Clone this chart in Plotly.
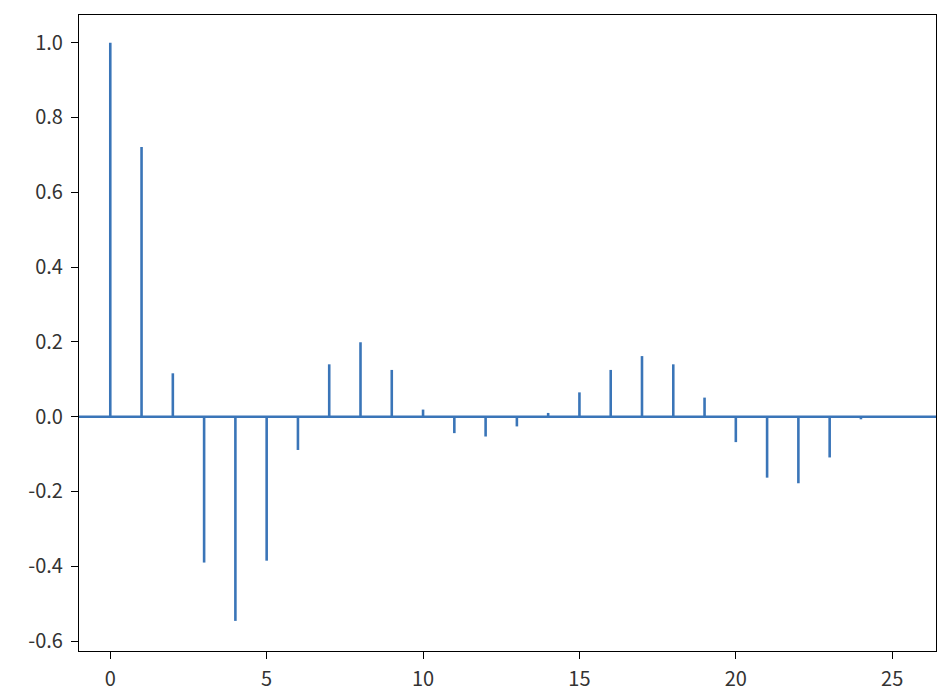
import plotly.graph_objects as go

lags = list(range(25))
acf = [1.0, 0.721, 0.116, -0.390, -0.546, -0.385, -0.089, 0.140, 0.199, 0.125,
       0.019, -0.044, -0.053, -0.026, 0.010, 0.065, 0.125, 0.162, 0.140, 0.051,
       -0.068, -0.163, -0.178, -0.109, -0.007]

xtick_vals = [0, 5, 10, 15, 20, 25]
xtick_text = ["0", "5", "10", "15", "20", "25"]
ytick_vals = [-0.6, -0.4, -0.2, 0.0, 0.2, 0.4, 0.6, 0.8, 1.0]
ytick_text = ["-0.6", "-0.4", "-0.2", "0.0", "0.2", "0.4", "0.6", "0.8", "1.0"]

color = "#3a75b8"

xs, ys = [], []
for lag, v in zip(lags, acf):
    xs += [lag, lag, None]
    ys += [0, v, None]

fig = go.Figure()
fig.add_trace(go.Scatter(x=xs, y=ys, mode="lines",
                         line=dict(color=color, width=2.6),
                         hoverinfo="skip", showlegend=False))
fig.add_hline(y=0, line=dict(color=color, width=2.4), layer="above")

font = dict(family="Noto Sans CJK JP, sans-serif", size=20, color="#333333")
axis_common = dict(showgrid=False, zeroline=False, showline=True, linecolor="black",
                   linewidth=1.2, mirror=True, ticks="outside", ticklen=7,
                   tickwidth=1.2, tickcolor="black", tickfont=font)

fig.update_xaxes(range=[-1.0, 26.4], tickmode="array", tickvals=xtick_vals,
                 ticktext=xtick_text, ticklabelstandoff=3, **axis_common)
fig.update_yaxes(range=[-0.6265, 1.074], tickmode="array", tickvals=ytick_vals,
                 ticktext=ytick_text, ticklabelstandoff=4, **axis_common)

fig.update_layout(width=940, height=692, plot_bgcolor="white", paper_bgcolor="white",
                  margin=dict(l=71, r=12, t=7, b=49), showlegend=False)

fig.write_html("out.html")
